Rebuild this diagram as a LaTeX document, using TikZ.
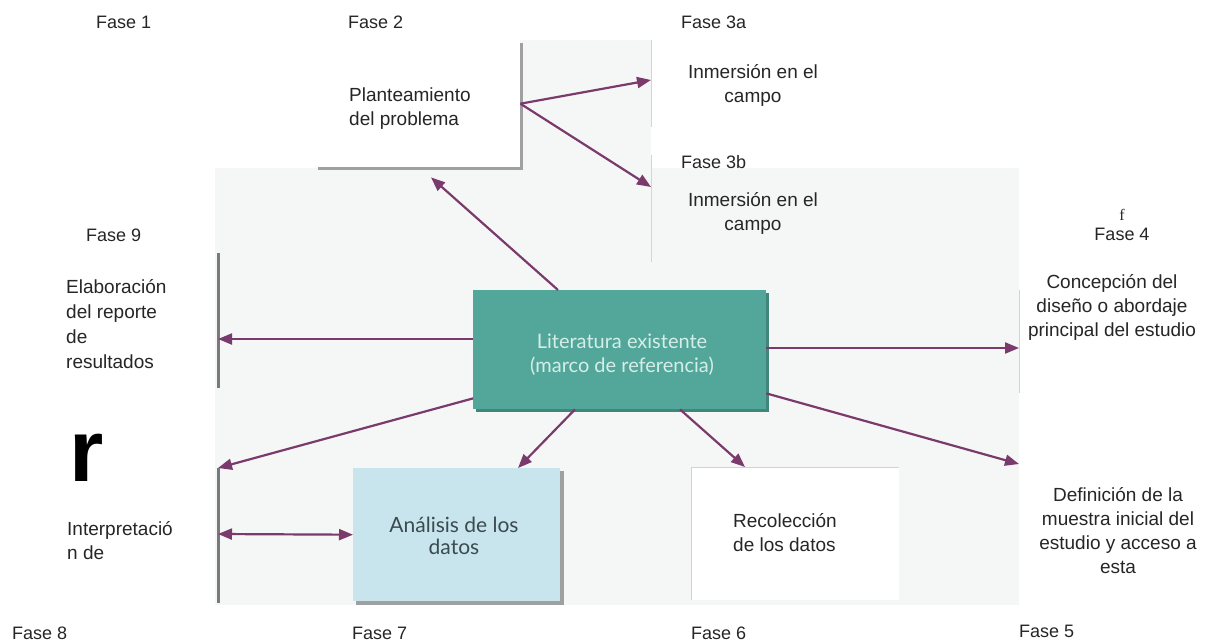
\documentclass[tikz,border=0pt]{standalone}
\usepackage{fontspec}
\setmainfont{Liberation Sans}
\newfontfamily\bookfont{Lato}
\newfontfamily\serifm{Liberation Serif}
\usetikzlibrary{arrows.meta}
\definecolor{arrowc}{RGB}{122,58,108}
\definecolor{tealc}{RGB}{82,166,154}
\definecolor{teallt}{RGB}{214,238,232}
\definecolor{lblue}{RGB}{200,229,238}
\definecolor{txt}{RGB}{38,38,38}
\definecolor{antxt}{RGB}{58,74,80}
\definecolor{faint}{RGB}{205,214,226}
\definecolor{bgscan}{RGB}{245,246,246}
\definecolor{shadowc}{RGB}{160,160,160}
\definecolor{barc}{RGB}{120,120,125}
\begin{document}
\begin{tikzpicture}[x=1pt,y=-1pt,
  conn/.style={draw=arrowc, line width=2.2pt, -{Triangle[length=14pt,width=11pt]}},
  conn2/.style={draw=arrowc, line width=2.2pt, {Triangle[length=14pt,width=11pt]}-{Triangle[length=14pt,width=11pt]}},
  lbl/.style={font=\fontsize{18}{22}\selectfont, text=txt, inner sep=0pt, anchor=base west},
  body/.style={font=\fontsize{19}{24}\selectfont, text=txt, inner sep=0pt},
  booktxt/.style={font=\bookfont\fontsize{20}{24}\selectfont, inner sep=0pt, align=center},
  boxnode/.style={inner sep=0pt, anchor=north west},
  faintline/.style={draw=faint, line width=0.9pt},
  barline/.style={draw=barc, line width=3pt},
]
\useasboundingbox (0,0) rectangle (1210,643);
\fill[white] (0,0) rectangle (1210,643);
% faint scanned background
\fill[bgscan] (215,168) rectangle (1019,605);
\fill[bgscan] (520,40) rectangle (651,168);

% Planteamiento box
\fill[shadowc] (318,43) rectangle (523,170);
\node[boxnode, fill=white, minimum width=205pt, minimum height=127pt] (plan) at (315,40) {};
\node[body, anchor=base west, align=left] (plantxt) at (349,125) {Planteamiento\\del problema};

% Teal box
\fill[tealc!80!black] (476,293) rectangle (769,412);
\node[boxnode, fill=tealc, minimum width=293pt, minimum height=119pt] (lit) at (473,290) {};
\node[booktxt, text=teallt, anchor=base] (littxt) at (622,372) {Literatura existente\\(marco de referencia)};

% Analisis box
\fill[shadowc] (356,471) rectangle (564,605);
\node[boxnode, fill=lblue, minimum width=207pt, minimum height=133pt] (an) at (353,468) {};
\node[booktxt, text=antxt, anchor=base, font=\bookfont\fontsize{21}{22}\selectfont] (antxt) at (454,554) {Análisis de los\\datos};

% Recoleccion box
\fill[white] (691,467) rectangle (899,600);
\node[boxnode, minimum width=208pt, minimum height=133pt] (rec) at (691,467) {};
\draw[faintline, draw=gray!35] (899,467) -- (691,467) -- (691,600);
\node[body, anchor=base west, align=left] (rectxt) at (733,551) {Recolección\\de los datos};

% left bars (edges of boxes)
\draw[barline] (218,253) -- (218,388);
\draw[barline] (218,468) -- (218,603);
% faint vertical lines
\draw[faintline] (651,40) -- (651,127);
\draw[faintline] (651,155) -- (651,262);
\draw[faintline] (1019,290) -- (1019,393);

% connector end coordinates
\coordinate (c3a) at (651,80);
\coordinate (c3b) at (651,187);
\coordinate (c9) at (218,339);
\coordinate (c8) at (218,468);
\coordinate (c8b) at (218,534);
\coordinate (c4) at (1019,348);
\coordinate (c5) at (1019,464);

% connectors
\draw[conn] ([xshift=85pt]lit.north west) -- ([xshift=116pt,yshift=-10pt]plan.south west);
\draw[conn] (plan.east) -- (c3a);
\draw[conn] (plan.east) -- (c3b);
\draw[conn] ([yshift=-49pt]lit.north west) -- (c9);
\draw[conn] ([yshift=11pt]lit.south west) -- (c8);
\draw[conn] ([xshift=102pt]lit.south west) -- ([xshift=165pt]an.north west);
\draw[conn] ([xshift=207pt]lit.south west) -- ([xshift=54pt]rec.north west);
\draw[conn] ([yshift=-58pt]lit.north east) -- (c4);
\draw[conn] ([yshift=16pt]lit.south east) -- (c5);
\draw[conn2] (c8b) -- (an.west);

% phase labels
\node[lbl] (f1) at (96,28) {Fase 1};
\node[lbl] (f2) at (348,28) {Fase 2};
\node[lbl] (f3a) at (681,28) {Fase 3a};
\node[lbl] (f3b) at (681,168) {Fase 3b};
\node[lbl, anchor=base] (f4) at (1122,240) {Fase 4};
\node[inner sep=0pt, anchor=base, font=\serifm\fontsize{16}{16}\selectfont, text=txt] (ff) at (1122,220) {f};
\node[lbl] (f9) at (86,241) {Fase 9};
\node[lbl] (f8) at (12,639) {Fase 8};
\node[lbl] (f7) at (352,639) {Fase 7};
\node[lbl] (f6) at (691,639) {Fase 6};
\node[lbl] (f5) at (1019,637) {Fase 5};

% texts
\node[body, anchor=base, align=center] (in3a) at (753,102) {Inmersión en el\\campo};
\node[body, anchor=base, align=center] (in3b) at (753,230) {Inmersión en el\\campo};
\node[body, anchor=base, align=center] (conc) at (1112,336) {Concepción del\\diseño o abordaje\\principal del estudio};
\node[body, anchor=base, align=center] (defi) at (1118,573) {Definición de la\\muestra inicial del\\estudio y acceso a\\esta};
\node[body, anchor=base west, align=left, font=\fontsize{19}{25}\selectfont] (elab) at (66,368) {Elaboración\\del reporte\\de\\resultados};
\node[inner sep=0pt, anchor=base west, font=\bfseries\fontsize{88}{88}\selectfont] (bigr) at (69,481) {r};
\node[body, anchor=base west, align=left] (interp) at (67,559) {Interpretació\\n de};
\end{tikzpicture}
\end{document}
